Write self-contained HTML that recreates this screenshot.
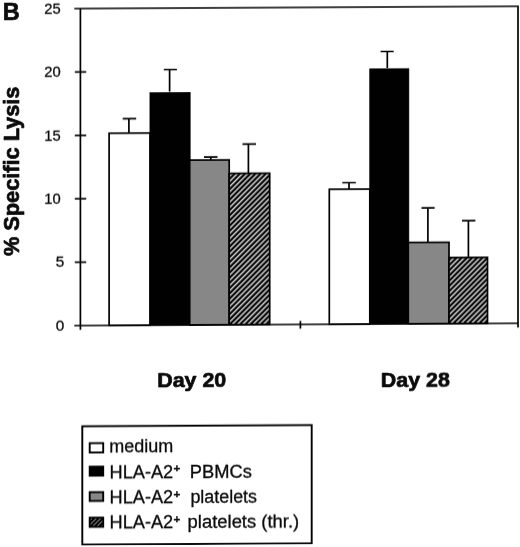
<!DOCTYPE html>
<html lang="en"><head><meta charset="utf-8"><title>Figure B</title>
<style>
html,body{margin:0;padding:0;background:#fff;}
body{width:520px;height:547px;overflow:hidden;}
svg{display:block;}
text{font-family:"Liberation Sans",Arial,Helvetica,sans-serif;fill:#0a0a0a;stroke:#0a0a0a;stroke-width:0.3px;}
.b{font-weight:bold;stroke:#0a0a0a;stroke-width:0.7px;stroke-linejoin:round;}
</style></head><body>
<svg width="520" height="547" viewBox="0 0 520 547">
<defs>
<pattern id="h" patternUnits="userSpaceOnUse" width="3.68" height="3.68" patternTransform="rotate(-45)">
<rect x="0" y="0" width="3.68" height="3.68" fill="#000"/>
<rect x="0" y="0" width="3.68" height="1.45" fill="#dcdcdc"/>
</pattern>
<pattern id="h2" patternUnits="userSpaceOnUse" width="3.1" height="3.1" patternTransform="rotate(-45) translate(0 0.6)">
<rect x="0" y="0" width="3.1" height="3.1" fill="#000"/>
<rect x="0" y="0" width="3.1" height="0.8" fill="#a8a8a8"/>
</pattern>
</defs>
<rect x="0" y="0" width="520" height="547" fill="#fff"/>

<g transform="matrix(1 -0.0052 0 1 0 0)" opacity="0.999">
<g fill="none" stroke="#000" stroke-width="1.7" stroke-linecap="butt">
<rect x="109.10" y="133.80" width="40.90" height="192.20" fill="#fff"/>
<path d="M128.90 133.80V119.40M122.70 119.40H136.20"/>
<rect x="149.90" y="93.30" width="40.30" height="232.70" fill="#000" stroke-width="0.6"/>
<path d="M169.60 92.60V70.50M163.80 70.50H176.90"/>
<rect x="189.70" y="161.10" width="39.50" height="164.90" fill="#878787"/>
<path d="M210.80 161.10V158.20M204.00 158.20H217.50"/>
<rect x="229.20" y="174.60" width="40.50" height="151.40" fill="url(#h)"/>
<path d="M248.40 174.60V145.30M242.50 145.30H256.00"/>
<rect x="329.30" y="191.00" width="40.50" height="135.00" fill="#fff"/>
<path d="M349.00 191.00V184.50M342.30 184.50H355.80"/>
<rect x="369.70" y="70.80" width="39.20" height="255.20" fill="#000" stroke-width="0.6"/>
<path d="M387.30 70.10V53.50M380.60 53.50H393.70"/>
<rect x="408.30" y="244.60" width="40.70" height="81.40" fill="#878787"/>
<path d="M427.90 244.60V210.10M421.50 210.10H434.60"/>
<rect x="449.00" y="259.90" width="38.50" height="66.10" fill="url(#h)"/>
<path d="M468.40 259.90V223.20M462.00 223.20H475.40"/>
<path d="M74.3 9.00H518M80.4 9.00V330.2M74.3 326.00H518M518 8.20V330.2M300.4 322.6V330.2"/>
<path d="M74.8 262.60H86.2"/>
<path d="M74.8 199.20H86.2"/>
<path d="M74.8 135.80H86.2"/>
<path d="M74.8 72.40H86.2"/>
</g>
<text x="64.3" y="330.90" font-size="14.2" text-anchor="end" textLength="8.5" lengthAdjust="spacingAndGlyphs">0</text>
<text x="64.3" y="267.50" font-size="14.2" text-anchor="end" textLength="8.5" lengthAdjust="spacingAndGlyphs">5</text>
<text x="60.6" y="204.10" font-size="14.2" text-anchor="end" textLength="16.4" lengthAdjust="spacingAndGlyphs">10</text>
<text x="60.6" y="140.70" font-size="14.2" text-anchor="end" textLength="16.4" lengthAdjust="spacingAndGlyphs">15</text>
<text x="60.6" y="77.30" font-size="14.2" text-anchor="end" textLength="16.4" lengthAdjust="spacingAndGlyphs">20</text>
<text x="60.6" y="13.90" font-size="14.2" text-anchor="end" textLength="16.4" lengthAdjust="spacingAndGlyphs">25</text>
<text x="2.7" y="20.3" font-size="24.1" class="b" textLength="17.0" lengthAdjust="spacingAndGlyphs">B</text>
<text transform="translate(19.3 256.0) rotate(-90)" font-size="21.2" class="b" textLength="169.4" lengthAdjust="spacingAndGlyphs">% Specific Lysis</text>
<text x="157.2" y="388.4" font-size="20.8" class="b" textLength="69" lengthAdjust="spacingAndGlyphs">Day 20</text>
<text x="380.8" y="388.8" font-size="20.8" class="b" textLength="69" lengthAdjust="spacingAndGlyphs">Day 28</text>
<rect x="82.3" y="426.7" width="229.4" height="118.3" fill="#fff" stroke="#000" stroke-width="1.9"/>
<rect x="89.7" y="443.65" width="13.5" height="9.3" fill="#fff" stroke="#000" stroke-width="1.9"/>
<rect x="89.7" y="467.15" width="13.5" height="9.0" fill="#000" stroke="#000" stroke-width="1.9"/>
<rect x="89.7" y="492.65" width="13.5" height="8.8" fill="#878787" stroke="#000" stroke-width="1.9"/>
<rect x="89.7" y="518.15" width="13.5" height="9.2" fill="url(#h2)" stroke="#000" stroke-width="1.9"/>
<text x="109.2" y="453.5" font-size="17.6" textLength="64" lengthAdjust="spacingAndGlyphs">medium</text>
<text x="109.6" y="478.90" font-size="17.6" textLength="63.6" lengthAdjust="spacingAndGlyphs">HLA-A2</text>
<text x="173.6" y="473.50" font-size="10.8" font-weight="bold" textLength="6.8" lengthAdjust="spacingAndGlyphs">+</text>
<text x="189.80" y="478.90" font-size="17.6" textLength="62.00" lengthAdjust="spacingAndGlyphs">PBMCs</text>
<text x="109.6" y="504.20" font-size="17.6" textLength="63.6" lengthAdjust="spacingAndGlyphs">HLA-A2</text>
<text x="173.6" y="498.80" font-size="10.8" font-weight="bold" textLength="6.8" lengthAdjust="spacingAndGlyphs">+</text>
<text x="190.40" y="504.20" font-size="17.6" textLength="66.60" lengthAdjust="spacingAndGlyphs">platelets</text>
<text x="109.6" y="529.50" font-size="17.6" textLength="63.6" lengthAdjust="spacingAndGlyphs">HLA-A2</text>
<text x="173.6" y="524.10" font-size="10.8" font-weight="bold" textLength="6.8" lengthAdjust="spacingAndGlyphs">+</text>
<text x="187.60" y="529.50" font-size="17.6" textLength="111.60" lengthAdjust="spacingAndGlyphs">platelets (thr.)</text>
</g>
</svg></body></html>
